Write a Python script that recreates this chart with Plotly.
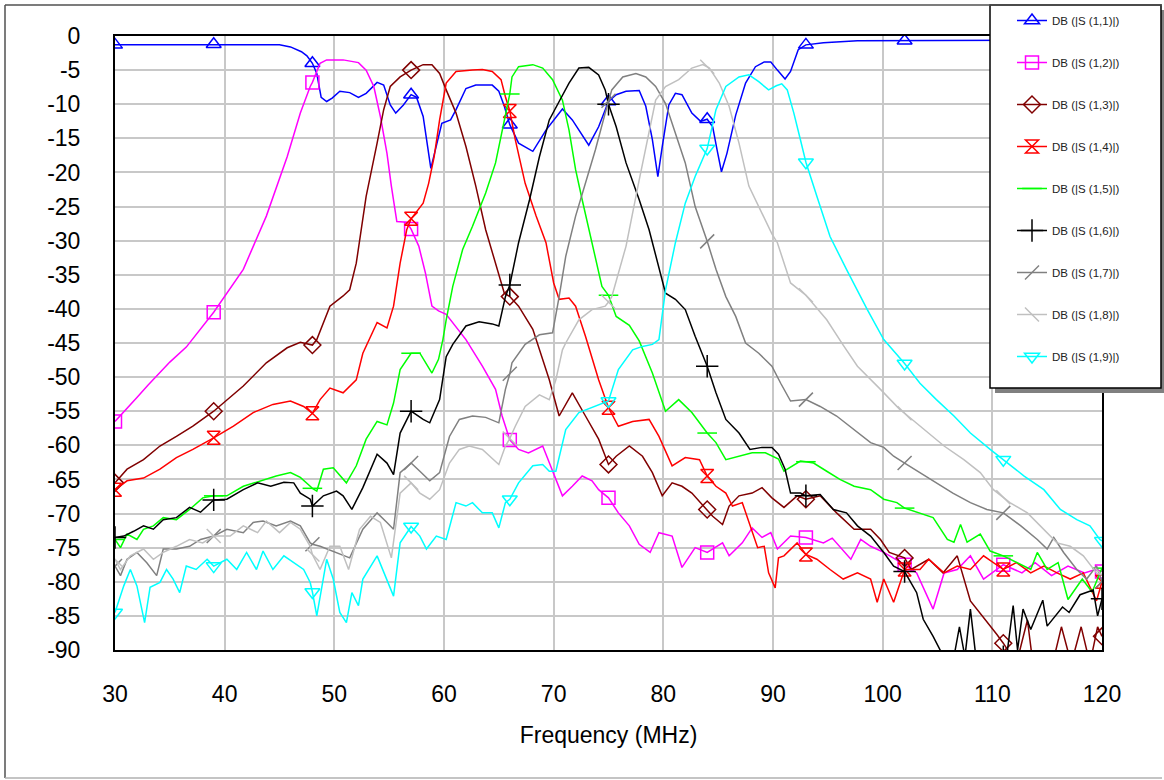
import numpy as np
import plotly.graph_objects as go

# ---------------- data (frequency MHz, dB) ----------------
S11 = [(30,-1.3),(33,-1.3),(36,-1.2),(39,-1.2),(42,-1.2),(45,-1.3),(46,-1.6),(47,-2.3),(47.5,-2.9),(48,-4.0),
       (48.4,-5.5),(48.8,-9.0),(49.3,-9.6),(49.8,-9.1),(50.5,-8.1),(51.4,-8.3),(52.2,-9.0),(52.9,-8.4),(53.9,-6.8),
       (54.5,-7.2),(55.1,-10.1),(55.6,-11.3),(56.3,-10.1),(57,-8.6),(57.5,-9.0),(58.1,-11.8),(58.8,-19.4),(59.2,-16.7),
       (59.8,-12.8),(60.6,-12.3),(61.1,-10.8),(62,-7.7),(62.9,-7.2),(64.4,-7.2),(65,-8.1),(65.5,-10.3),(66,-13.0),
       (66.8,-15.7),(68.1,-16.9),(69.3,-13.8),(70.8,-10.7),(71.7,-12.3),(73.2,-16.0),(74.1,-13.3),(75,-9.6),(75.7,-8.6),
       (76.6,-8.1),(77.8,-8.0),(78.4,-10.3),(79,-15.2),(79.5,-20.6),(79.9,-16.2),(80.5,-10.1),(81.1,-8.4),(81.7,-8.6),
       (82.6,-11.3),(83.4,-12.5),(84,-12.2),(84.5,-13.3),(84.9,-16.7),(85.3,-19.9),(85.8,-17.2),(86.6,-11.6),(87.5,-6.9),
       (88.4,-4.5),(89.2,-3.8),(89.8,-3.8),(90.4,-5.0),(91.1,-6.3),(91.6,-5.2),(92.3,-2.0),(93,-1.3),(94.6,-1.0),
       (97.7,-0.7),(102,-0.7),(111,-0.6),(120,-0.6)]

S12 = [(30,-56.5),(31,-54.8),(32,-53.0),(33,-51.2),(34,-49.5),(35,-47.8),(36.5,-45.6),(39,-40.5),(41.7,-34.2),
       (43.8,-26.4),(45.7,-17.7),(46.9,-11.3),(47.8,-7.4),(48,-6.8),(48.7,-4.0),(49.3,-3.5),(50.8,-3.5),(52.2,-3.9),
       (52.9,-5.0),(53.6,-7.4),(54.2,-11.8),(54.8,-17.2),(55.2,-22.0),(55.7,-27.2),(56.6,-27.3),(57,-28.3),(57.7,-30.8),
       (58.3,-34.7),(58.9,-39.6),(59.5,-40.3),(60.2,-40.8),(61,-42.5),(62,-44.5),(63.5,-48.4),(64.7,-51.8),(65.3,-55.7),
       (66,-59.2),(66.8,-60.6),(67.7,-61.1),(69,-60.1),(69.9,-63.8),(70.8,-67.4),(71.7,-66.0),(72.6,-64.5),(73.5,-65.2),
       (74.1,-66.5),(75,-67.7),(75.9,-69.9),(76.9,-71.8),(77.8,-74.5),(78.8,-75.7),(79.6,-72.8),(80.8,-73.3),
       (81.7,-77.9),(82.9,-75.0),(84,-75.7),(85.4,-74.3),(86,-76.2),(87.2,-74.3),(88.1,-72.1),(89,-73.5),(89.8,-72.8),
       (90.4,-75.2),(91.6,-73.3),(93,-73.5),(94.6,-74.3),(95.4,-73.6),(97.1,-76.7),(98,-73.8),(98.9,-74.8),
       (100.1,-75.7),(102,-77.5),(103.1,-78.7),(104.6,-84.0),(105.6,-78.7),(106.8,-78.2),(108,-76.2),(109.2,-79.6),
       (111,-77.5),(112.7,-78.7),(113.9,-77.2),(115.4,-79.1),(116.9,-77.7),(118.4,-78.7),(119.4,-78.2),(120,-78.5)]

S13 = [(30,-65.5),(31.1,-63.5),(32.6,-62.1),(34.1,-60.1),(35.6,-58.7),(37.1,-57.2),(39,-55.0),(41.7,-51.3),
       (43.8,-47.9),(45.7,-45.7),(46.9,-44.9),(48,-45.3),(48.4,-44.5),(49,-42.0),(49.6,-39.6),(50.8,-38.1),
       (51.4,-37.2),(52,-33.3),(52.9,-23.5),(53.9,-15.7),(54.5,-10.8),(55.1,-7.4),(56,-6.0),(57,-5.0),(58.1,-4.2),
       (58.9,-4.2),(59.6,-5.5),(60.2,-7.9),(61.1,-11.3),(62,-16.2),(62.9,-22.0),(63.8,-28.4),(64.7,-33.3),
       (65.5,-37.7),(66,-38.2),(66.8,-39.6),(68.1,-43.0),(68.7,-46.0),(69.6,-50.4),(70.5,-55.7),(71.7,-52.3),
       (72.9,-55.7),(74.1,-59.1),(75,-62.8),(75.7,-61.6),(76.9,-60.1),(78.1,-61.6),(79,-64.0),(79.9,-67.4),
       (80.8,-65.5),(81.7,-66.0),(82.6,-67.0),(84,-69.4),(84.5,-70.4),(85.4,-71.6),(86,-68.9),(86.9,-67.4),
       (88.1,-67.0),(89,-66.2),(89.9,-67.7),(91,-69.1),(92.2,-67.4),(93,-67.9),(94.3,-67.4),(95.8,-69.9),
       (97.4,-72.3),(98.9,-72.3),(99.8,-73.8),(100.6,-75.7),(102,-76.5),(102.6,-78.2),(104.2,-76.7),(105.5,-78.7),
       (106.8,-76.2),(108,-82.8),(109.2,-85.2),(110.4,-87.7),(111,-89.0),(112.2,-92.0),(113.2,-85.6),(113.7,-92.0),
       (115.5,-92.0),(116.3,-86.6),(117.2,-92.0),(118.1,-86.6),(118.9,-92.0),(119.6,-86.6),(120,-88.0)]

S14 = [(30,-66.5),(31.1,-65.2),(32.6,-64.8),(34.1,-63.5),(35.6,-61.8),(37.1,-60.6),(39,-58.9),(40.8,-57.2),
       (42.6,-55.2),(44.4,-54.0),(46,-53.5),(47.2,-54.3),(48,-55.3),(48.7,-53.3),(49.6,-51.6),(50.8,-52.3),
       (52,-50.4),(52.6,-46.5),(53.9,-42.0),(54.8,-42.8),(55.4,-39.6),(56,-33.3),(56.6,-28.4),(57,-26.8),
       (58.1,-24.5),(58.6,-21.6),(59.1,-17.7),(59.6,-12.3),(60.2,-6.9),(61.1,-5.2),(62.6,-5.0),(63.5,-4.9),
       (64.4,-5.2),(65.2,-6.4),(65.6,-8.9),(66,-11.0),(66.5,-15.2),(67.4,-21.6),(68.4,-26.4),(69.3,-30.3),
       (70,-36.2),(70.5,-38.6),(71.4,-38.4),(72,-39.6),(72.9,-44.0),(74.1,-50.4),(75,-54.5),(75.9,-57.2),
       (77.2,-56.5),(78.7,-56.2),(79.6,-58.7),(80.8,-63.0),(82,-61.8),(83.3,-62.1),(84,-64.5),(84.8,-66.0),
       (85.7,-67.0),(86.3,-68.9),(87.2,-68.4),(87.9,-71.8),(88.6,-75.0),(89.2,-74.8),(89.6,-78.7),(90.2,-80.9),
       (90.5,-76.5),(91,-76.2),(92.2,-74.3),(93,-76.0),(94,-76.7),(95.2,-78.2),(96.4,-79.6),(97.7,-78.7),
       (98.9,-79.6),(99.5,-83.0),(100.1,-79.6),(101,-83.0),(102,-78.2),(103.4,-78.2),(104.2,-76.7),(105.6,-78.7),
       (106.8,-77.7),(108,-78.2),(109.2,-76.2),(111,-78.2),(112.2,-77.2),(113.5,-78.7),(114.7,-77.7),(115.9,-78.7),
       (117.1,-79.6),(118.3,-78.7),(119.5,-82.8),(120,-80.0)]

S15 = [(30,-73.8),(30.5,-75.0),(31.1,-73.0),(32,-73.8),(32.6,-72.3),(33.5,-71.8),(34.4,-70.6),(35.6,-70.9),
       (36.8,-69.4),(38,-67.7),(39,-67.4),(40.2,-67.4),(41.7,-66.0),(43.2,-65.2),(44.7,-64.5),(46,-64.0),
       (46.9,-64.7),(47.8,-66.0),(48,-66.3),(48.4,-66.7),(49,-63.5),(49.9,-63.3),(51.1,-65.5),(52,-63.0),
       (52.9,-59.1),(53.9,-56.5),(54.8,-57.0),(55.4,-53.8),(56,-48.9),(57,-46.5),(57.8,-46.5),(58.9,-49.4),
       (59.5,-47.4),(59.9,-44.5),(60.2,-41.6),(60.8,-36.7),(61.7,-31.3),(62.6,-27.9),(63.8,-23.0),(64.7,-18.6),
       (65.3,-13.8),(66,-8.5),(66.2,-6.0),(66.8,-4.5),(68.1,-4.2),(69,-4.7),(69.9,-6.4),(70.8,-9.4),(71.4,-13.8),
       (72,-19.6),(72.6,-24.0),(73.5,-30.3),(74.4,-36.7),(75,-38.0),(75.7,-41.1),(76.9,-42.4),(77.8,-44.7),
       (79,-49.4),(80.2,-55.0),(81.4,-53.3),(82.6,-55.2),(84,-58.2),(84.8,-59.6),(85.7,-62.1),(86.9,-61.6),
       (88.1,-61.1),(89.3,-61.1),(90.5,-62.0),(91,-63.8),(92.5,-62.3),(93,-62.4),(93.7,-62.6),(94.9,-63.8),
       (96.1,-65.0),(97.4,-66.0),(98.9,-66.5),(100.1,-67.9),(101.3,-68.4),(102,-69.2),(103.4,-69.9),(104.6,-70.6),
       (105.9,-73.8),(106.5,-74.2),(107.1,-71.6),(107.7,-74.2),(108.9,-73.0),(109.8,-75.5),(111,-76.2),
       (112.2,-77.2),(113.5,-78.2),(114.1,-75.7),(115,-78.2),(116,-77.2),(116.9,-82.6),(118.2,-79.6),(119.1,-81.5),
       (120,-78.0)]

S16 = [(30,-73.5),(30.8,-73.3),(31.7,-72.6),(32.6,-71.8),(33.5,-72.3),(34.4,-70.9),(35.6,-70.6),(36.8,-69.1),
       (37.8,-69.8),(39,-68.0),(40.2,-67.9),(41.7,-66.5),(43,-65.5),(44.2,-66.0),(45.4,-65.4),(46.3,-65.5),
       (46.9,-67.0),(47.8,-67.9),(48,-68.9),(49,-67.4),(50.2,-66.7),(50.8,-67.4),(51.6,-69.4),(52.6,-66.2),
       (53.9,-61.3),(54.8,-62.6),(55.4,-64.3),(56,-58.2),(57,-55.0),(58.1,-56.2),(58.7,-56.7),(59.6,-53.3),
       (60.2,-47.0),(60.8,-45.2),(62,-42.5),(63.2,-41.9),(64.4,-42.2),(65,-42.5),(65.6,-38.2),(66,-36.5),
       (66.8,-30.3),(67.8,-24.0),(68.7,-17.7),(69.6,-12.3),(70.5,-9.6),(71.4,-6.9),(72.3,-4.7),(73.2,-4.6),
       (74.1,-5.7),(74.7,-7.9),(75,-10.0),(75.7,-13.3),(76.6,-18.6),(77.8,-24.0),(78.7,-28.4),(79.6,-34.2),
       (80.2,-37.7),(81.1,-38.6),(82,-40.1),(82.9,-44.0),(84,-48.4),(84.8,-52.3),(85.7,-56.2),(86.9,-58.2),
       (87.9,-60.6),(89,-60.3),(89.9,-60.3),(90.5,-61.3),(91.1,-63.5),(91.6,-67.0),(92.5,-67.0),(93,-67.4),
       (94.3,-67.2),(95.5,-69.4),(96.7,-69.9),(97.7,-71.8),(98.9,-73.3),(100.1,-75.7),(101,-77.7),(102,-78.5),
       (103.1,-81.6),(103.7,-85.5),(104.6,-88.0),(105.4,-90.5),(106.5,-91.0),(107,-86.6),(107.5,-91.0),
       (108,-84.0),(108.5,-91.0),(111,-91.0),(111.3,-91.0),(111.9,-83.5),(112.3,-90.0),(112.8,-84.0),(113.5,-87.0),
       (114.6,-82.7),(115,-86.5),(116.4,-83.7),(117,-84.5),(118,-81.9),(119.2,-81.2),(119.6,-85.0),(120,-82.5)]

S17 = [(30,-77.7),(30.5,-79.1),(31.1,-76.7),(32,-75.7),(32.9,-77.2),(33.8,-79.1),(34.4,-75.2),(35.6,-75.2),
       (36.8,-74.8),(37.8,-73.8),(39,-73.3),(40.2,-72.3),(41.7,-72.8),(42.6,-71.3),(43.5,-71.1),(44.7,-71.8),
       (46,-71.1),(46.9,-71.8),(47.8,-74.3),(48,-74.5),(48.7,-74.8),(50.2,-75.7),(51.4,-76.5),(52.6,-72.3),
       (53.9,-69.9),(54.8,-71.3),(55.4,-72.3),(56,-64.0),(57,-62.6),(57.8,-63.8),(58.7,-65.2),(59.6,-64.0),
       (60.5,-58.7),(61.4,-56.2),(62.6,-55.7),(63.8,-55.9),(65,-56.7),(65.6,-51.8),(66,-49.5),(66.2,-47.9),
       (67.4,-45.2),(68.7,-43.8),(69.9,-43.5),(70.5,-38.2),(71.1,-32.3),(72,-26.4),(72.9,-21.6),(73.8,-16.7),
       (74.7,-11.3),(75,-9.5),(75.3,-7.9),(76.3,-6.0),(77.5,-5.5),(78.4,-6.0),(79.3,-7.4),(80.2,-9.9),
       (81.1,-14.2),(82,-18.6),(82.9,-25.0),(84,-30.1),(84.8,-34.2),(85.7,-38.2),(86.6,-41.1),(87.5,-45.0),
       (88.7,-46.5),(89.9,-48.4),(90.7,-50.9),(91.6,-53.5),(93,-53.3),(94.3,-54.3),(95.8,-55.7),(97.4,-57.7),
       (98.9,-59.6),(100.1,-60.3),(101,-61.6),(102,-62.6),(103.4,-64.0),(104.9,-65.5),(106.4,-67.0),(108,-68.4),
       (109.5,-69.4),(111,-69.9),(112.6,-71.8),(114.1,-73.8),(115,-75.2),(115.6,-73.5),(116.5,-75.7),
       (117.7,-78.2),(118.6,-79.6),(119.5,-77.7),(120,-80.0)]

S18 = [(30,-76.7),(30.5,-78.2),(31.4,-76.2),(32.6,-75.2),(33.5,-76.7),(34.4,-75.7),(35.6,-74.8),(36.8,-73.8),
       (38,-74.3),(39,-73.3),(40.5,-73.3),(41.7,-71.8),(43,-72.8),(43.8,-71.1),(45,-72.8),(46,-71.3),(46.9,-72.3),
       (47.8,-74.8),(48,-76.0),(48.7,-78.2),(49.6,-74.8),(50.5,-74.8),(51.3,-78.2),(52.3,-72.3),(53.3,-70.4),
       (54.2,-71.3),(55.2,-76.5),(56,-67.0),(57,-65.5),(57.8,-67.0),(58.7,-67.9),(59.6,-66.5),(60.5,-62.6),
       (61.4,-60.6),(62.3,-60.1),(63.5,-60.6),(65,-62.8),(65.6,-60.1),(66,-59.0),(66.5,-57.2),(67.4,-54.3),
       (68.7,-52.6),(69.6,-53.3),(70.2,-50.4),(70.8,-46.0),(71.1,-45.0),(72.3,-41.6),(73.5,-40.1),(74.7,-39.6),
       (75,-39.0),(75.3,-38.2),(76.6,-30.8),(77.8,-21.1),(78.7,-13.8),(79.3,-9.4),(80.2,-7.4),(81.4,-6.4),
       (82.6,-4.7),(83.6,-4.2),(84,-4.5),(84.2,-4.7),(85.1,-6.9),(86,-10.3),(86.9,-15.7),(87.8,-22.0),(88.7,-25.0),
       (89.9,-29.0),(90.4,-30.3),(91.1,-33.8),(91.6,-36.2),(93,-38.0),(94.9,-41.6),(96.4,-45.3),(97.7,-48.4),
       (99.8,-51.8),(101.6,-54.8),(102,-55.3),(103.4,-57.2),(105.6,-60.1),(107.4,-62.1),(108.9,-64.0),
       (110.1,-66.5),(111,-67.6),(111.6,-68.4),(113.2,-69.9),(114.7,-72.3),(115.9,-74.3),(117.1,-74.8),
       (118.3,-76.2),(119.5,-78.7),(120,-79.0)]

S19 = [(30,-84.5),(30.2,-83.5),(30.8,-80.6),(31.4,-78.2),(32,-80.6),(32.7,-86.0),(33.2,-80.8),(34.1,-80.1),
       (34.7,-78.2),(35.3,-79.6),(35.9,-81.6),(36.5,-77.7),(37.4,-78.2),(38.4,-76.7),(39,-77.7),(40.2,-76.7),
       (41.1,-78.2),(42,-75.7),(42.9,-78.2),(43.5,-75.5),(44.4,-78.2),(45.4,-76.2),(46.3,-77.2),(47.2,-78.2),
       (47.8,-80.1),(48,-81.5),(48.4,-85.0),(49.3,-76.7),(49.9,-79.6),(50.5,-84.5),(51.1,-86.0),(51.6,-81.6),
       (52.2,-83.5),(52.6,-79.6),(53.9,-76.2),(54.8,-79.6),(55.4,-82.1),(56,-74.3),(57,-71.9),(57.8,-73.3),
       (58.4,-75.2),(59.3,-73.3),(60.2,-73.8),(61.1,-68.4),(62,-68.9),(62.6,-68.4),(63.5,-69.9),(64.4,-69.9),
       (65,-72.1),(65.6,-68.4),(66,-67.9),(66.8,-65.5),(68.1,-63.0),(69,-62.8),(69.6,-63.8),(70.2,-63.8),
       (71.1,-57.7),(72.3,-55.2),(73.8,-54.3),(75,-53.5),(75.9,-48.9),(77.2,-46.0),(78.1,-45.5),(79,-45.2),
       (79.6,-44.5),(80.2,-37.2),(81.1,-30.3),(82,-24.5),(82.9,-20.6),(84,-16.5),(84.8,-10.8),(85.7,-7.4),
       (86.9,-6.0),(87.8,-5.7),(88.7,-6.7),(89.6,-7.9),(90.3,-7.3),(90.8,-7.0),(91.3,-7.9),(91.9,-11.3),
       (92.5,-15.2),(93,-18.5),(94,-23.5),(95.2,-29.4),(96.7,-34.2),(98.6,-40.1),(100.1,-44.5),(102,-48.0),
       (103.4,-50.9),(104.9,-53.3),(106.5,-55.7),(108,-58.2),(109.8,-60.6),(111,-62.1),(112.9,-64.5),
       (114.7,-66.5),(116.2,-69.4),(117.7,-70.9),(118.9,-71.8),(119.8,-73.8),(120,-74.0)]

SERIES = [S11, S12, S13, S14, S15, S16, S17, S18, S19]
NAMES = ["DB (|S (1,%d)|)" % i for i in range(1, 10)]
MARKER_FREQS = [30, 39, 48, 57, 66, 75, 84, 93, 102, 111, 120]
Y_TICKS = list(range(0, -95, -5))
X_TICKS = list(range(30, 130, 10))

COLORS = ["#0000ff", "#ff00ff", "#800000", "#ff0000", "#00ff00", "#000000", "#808080", "#c0c0c0", "#00ffff"]
SYMBOLS = ["triangle-up-open", "square-open", "diamond-open", "hourglass-open", "line-ew-open",
           "cross-thin-open", "line-ne-open", "line-nw-open", "triangle-down-open"]
MSIZE = [13, 13, 13, 13, 14, 16, 14, 14, 13]

fig = go.Figure()
for i, s in enumerate(SERIES):
    f = np.array([p[0] for p in s], dtype=float)
    d = np.array([p[1] for p in s], dtype=float)
    is_mk = np.array([any(abs(x - m) < 1e-6 for m in MARKER_FREQS) for x in f])
    grp = "g%d" % i
    mk = dict(symbol=SYMBOLS[i], size=MSIZE[i], color=COLORS[i], line=dict(color=COLORS[i], width=1.5))
    # curve
    fig.add_trace(go.Scatter(x=f, y=d, mode="lines", line=dict(color=COLORS[i], width=1.5),
                             legendgroup=grp, showlegend=False, hoverinfo="skip"))
    # markers at the marker frequencies
    fig.add_trace(go.Scatter(x=f[is_mk], y=d[is_mk], mode="markers", marker=mk,
                             legendgroup=grp, showlegend=False, name=NAMES[i]))
    # legend entry (line + symbol)
    fig.add_trace(go.Scatter(x=[None], y=[None], mode="lines+markers", name=NAMES[i],
                             line=dict(color=COLORS[i], width=1.5), marker=mk,
                             legendgroup=grp, showlegend=True))

def px_x(px):
    return (px - 115) / 987.0

def px_y(py):
    return (650 - py) / 614.0

shapes = [
    # legend shadow and box
    dict(type="rect", xref="paper", yref="paper", x0=px_x(995), x1=px_x(1166), y0=px_y(393), y1=px_y(10),
         fillcolor="#808080", line=dict(width=0), layer="above"),
    dict(type="rect", xref="paper", yref="paper", x0=px_x(990), x1=px_x(1161), y0=px_y(388), y1=px_y(5),
         fillcolor="white", line=dict(color="black", width=1.5), layer="above"),
    # outer frame
    dict(type="line", xref="paper", yref="paper", x0=px_x(5), x1=px_x(1162), y0=px_y(5), y1=px_y(5),
         line=dict(color="#505050", width=1.5), layer="above"),
    dict(type="line", xref="paper", yref="paper", x0=px_x(5), x1=px_x(5), y0=px_y(5), y1=px_y(778),
         line=dict(color="#505050", width=1.5), layer="above"),
    dict(type="line", xref="paper", yref="paper", x0=px_x(5), x1=px_x(1162), y0=px_y(778), y1=px_y(778),
         line=dict(color="#b0b0b0", width=1.5), layer="above"),
]

axis_common = dict(
    showgrid=True, gridcolor="#c8c8c8", gridwidth=1.5,
    showline=True, linecolor="black", linewidth=2, mirror=True,
    zeroline=False, ticks="", tickfont=dict(family="Liberation Sans, Arial", size=23, color="black"),
)

fig.update_layout(
    width=1164, height=780,
    margin=dict(l=115, r=62, t=36, b=130, autoexpand=False),
    paper_bgcolor="white", plot_bgcolor="white",
    shapes=shapes,
    showlegend=True,
    hovermode=False,
    legend=dict(x=px_x(1012), y=px_y(6), xanchor="left", yanchor="top",
                bgcolor="rgba(0,0,0,0)", borderwidth=0,
                font=dict(family="Liberation Sans, Arial", size=11.5, color="#222222"),
                tracegroupgap=23, traceorder="grouped"),
    xaxis=dict(range=[30, 120], tickvals=X_TICKS, ticktext=[str(v) for v in X_TICKS], ticklabelstandoff=22,
               automargin=False,
               title=dict(text="Frequency (MHz)", font=dict(family="Liberation Sans, Arial", size=23, color="black"),
                          standoff=21),
               **axis_common),
    yaxis=dict(range=[-90, 0], tickvals=Y_TICKS, ticktext=[str(v) for v in Y_TICKS], ticklabelstandoff=28,
               automargin=False, **axis_common),
)

fig.write_html("out.html", config={"displayModeBar": False},
               post_script="document.body.style.margin='0px';")
